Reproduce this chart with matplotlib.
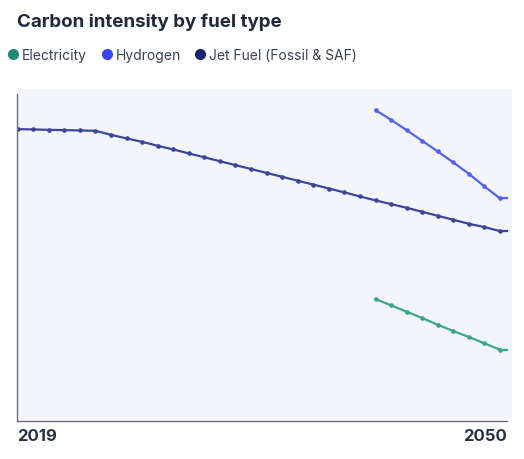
import matplotlib.pyplot as plt
from matplotlib.lines import Line2D

plt.rcParams['font.family'] = ['Inter', 'DejaVu Sans']

years = list(range(2019, 2051))
jet_fuel = [290, 289.7, 289.3, 289, 288.7, 288.3, 284.3, 280.7, 277.3, 273.3, 269.7, 265.7,
            261.8, 257.9, 254, 250.1, 246.2, 242.3, 238.4, 234.5, 230.6, 226.7, 222.7,
            218.7, 215, 211.3, 207.3, 203.3, 199.3, 195.3, 192, 188]
h2_years = list(range(2042, 2051))
hydrogen = [309, 299.3, 289, 278.3, 267.7, 256.7, 245.3, 232.7, 220.7]
electricity = [120, 113.7, 107.3, 101, 94.3, 88, 82, 75.7, 69.3]

series = [
    ("Electricity", h2_years, electricity, "#3aa58f", "#1f8a78"),
    ("Hydrogen", h2_years, hydrogen, "#5462f2", "#3545f0"),
    ("Jet Fuel (Fossil & SAF)", years, jet_fuel, "#3b4698", "#1c2270"),
]

fig = plt.figure(figsize=(5.24, 4.6), dpi=100)
ax = fig.add_axes([0.032, 0.087, 0.945, 0.717])
ax.set_facecolor("#f4f5fa")
xmax = 2050.77
for name, xs, ys, c, _ in series:
    ax.plot(xs, ys, color=c, lw=1.6, marker="o", ms=2.3)
    ax.plot([xs[-1], 2050.45], [ys[-1]] * 2, color=c, lw=1.6)

ax.set_xlim(2018.94, xmax)
ax.set_ylim(0, 330)
ax.set_yticks([])
ax.set_xticks([])
for s in ["top", "right"]:
    ax.spines[s].set_visible(False)
for s in ["left", "bottom"]:
    ax.spines[s].set_color("#6b6f78")
    ax.spines[s].set_linewidth(1.0)
ax.spines["left"].set_bounds(-2, 325)
ax.spines["bottom"].set_bounds(2018.94, 2050.45)
ax.spines["bottom"].set_position(("data", -2))

ax.text(2018.94, -9, "2019", ha="left", va="top", fontsize=12, fontweight="bold", color="#263142")
ax.text(2050.45, -9, "2050", ha="right", va="top", fontsize=12, fontweight="bold", color="#263142")

fig.text(0.032, 0.952, "Carbon intensity by fuel type", fontsize=13.5, fontweight="bold",
         color="#1e2a3a", va="center")
handles = [Line2D([], [], ls="", marker="o", ms=7, color=mc) for _, _, _, _, mc in series]
fig.legend(handles, [s[0] for s in series], loc="center left", bbox_to_anchor=(-0.012, 0.878),
           ncol=3, frameon=False, fontsize=10, handlelength=1.0, handletextpad=0.15,
           columnspacing=0.9, labelcolor="#3a4350")

fig.savefig("out.png", dpi=100)
